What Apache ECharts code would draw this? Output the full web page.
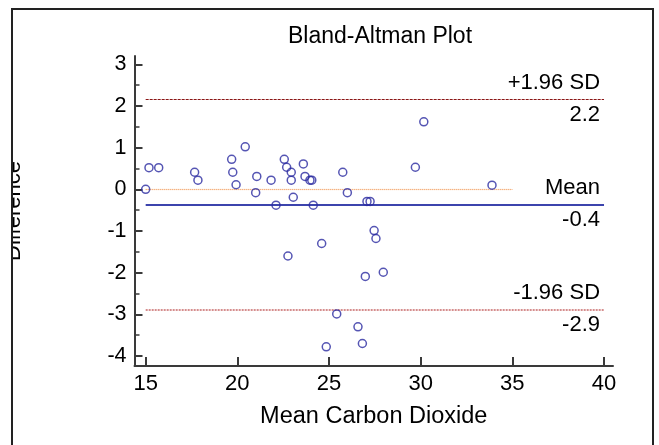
<!DOCTYPE html>
<html>
<head>
<meta charset="utf-8">
<script src="https://cdn.jsdelivr.net/npm/echarts@6/dist/echarts.min.js"></script>
<style>
html,body{margin:0;padding:0;background:#fff;}
#chart{width:659px;height:445px;}
</style>
</head>
<body>
<div id="chart"></div>
<script>
// ---- data ----
var meanCO2 = [15.0, 15.18, 15.71, 17.67, 17.85, 19.69, 19.75, 19.93, 20.43, 21.06,
  21.0, 21.84, 22.11, 22.56, 22.69, 22.94, 22.94, 23.05, 23.6, 23.69,
  23.96, 24.06, 24.14, 25.75, 26.0, 27.07, 27.24, 27.46, 27.56, 24.6,
  22.76, 26.98, 27.96, 25.42, 26.58, 26.82, 24.85, 30.17, 29.71, 33.89];
var difference = [0.0, 0.52, 0.52, 0.41, 0.22, 0.72, 0.41, 0.11, 1.02, 0.31,
  -0.08, 0.22, -0.38, 0.72, 0.53, 0.41, 0.22, -0.19, 0.61, 0.31,
  0.22, 0.22, -0.38, 0.41, -0.08, -0.29, -0.29, -0.99, -1.18, -1.30,
  -1.60, -2.09, -1.99, -2.99, -3.30, -3.70, -3.78, 1.62, 0.53, 0.10];
var meanDiff = -0.36;
var upperLoA = 2.16;
var lowerLoA = -2.88;
var zeroLine = 0;
var lineXRange = [15, 40];
var zeroXRange = [15, 35];
var xTicks = [15, 20, 25, 30, 35, 40];
var yTicks = [-4, -3, -2, -1, 0, 1, 2, 3];
var yMinorTicks = [-3.5, -2.5, -1.5, -0.5, 0.5, 1.5, 2.5];
var refNames = ['+1.96 SD', 'Mean', '-1.96 SD'];

var points = meanCO2.map(function (x, i) { return [x, difference[i]]; });
var FONT = 'Liberation Sans, Arial, sans-serif';
var axisColor = '#3a3a3a';

function refLine(y, xr) { return [{ coord: [xr[0], y] }, { coord: [xr[1], y] }]; }
function labelledLine(y, name, style) {
  var top = refLine(y, lineXRange);
  top[0].lineStyle = style;
  top[0].label = { show: true, position: 'insideEndTop', formatter: name, distance: [4, 5] };
  var bottom = refLine(y, lineXRange);
  bottom[0].lineStyle = Object.assign({}, style, { color: 'rgba(255,255,255,0)', width: 0 });
  bottom[0].label = { show: true, position: 'insideEndBottom', formatter: y.toFixed(1), distance: [4, 5], color: '#000' };
  return [top, bottom];
}

var upperStyle = { color: '#8a1515', type: [3, 1], width: 1 };
var meanStyle = { color: '#3c44ad', type: 'solid', width: 2 };
var lowerStyle = { color: '#c86a6a', type: [2, 1], width: 1.5 };
var zeroStyle = { color: '#f0904a', type: [1, 1], width: 1.2 };

var mlData = [];
mlData = mlData.concat(labelledLine(upperLoA, refNames[0], upperStyle));
mlData = mlData.concat(labelledLine(meanDiff, refNames[1], meanStyle));
mlData = mlData.concat(labelledLine(lowerLoA, refNames[2], lowerStyle));
var z = refLine(zeroLine, zeroXRange);
z[0].lineStyle = zeroStyle;
z[0].label = { show: false };
mlData.push(z);

var chart = echarts.init(document.getElementById('chart'), null, { renderer: 'canvas' });
chart.setOption({
  backgroundColor: '#fff',
  animation: false,
  textStyle: { fontFamily: FONT },
  title: {
    text: 'Bland-Altman Plot',
    left: 375, top: 20, textAlign: 'center',
    textStyle: { fontFamily: FONT, fontSize: 23, fontWeight: 'normal', color: '#000' }
  },
  grid: { left: 134.5, right: 46, top: 56, bottom: 79, containLabel: false, outerBoundsMode: 'none' },
  xAxis: {
    type: 'value', min: 14.39, max: 40.49,
    name: 'Mean Carbon Dioxide', nameLocation: 'middle', nameGap: 39,
    nameTextStyle: { fontFamily: FONT, fontSize: 23.5, color: '#000' },
    axisLine: { show: true, onZero: false, lineStyle: { color: axisColor, width: 2 } },
    axisTick: { show: true, inside: true, length: 9, customValues: xTicks, lineStyle: { color: axisColor, width: 2 } },
    axisLabel: { customValues: xTicks, fontFamily: FONT, fontSize: 22, color: '#000', margin: 7 },
    splitLine: { show: false }
  },
  yAxis: [{
    type: 'value', min: -4.24, max: 3.2,
    name: 'Difference', nameLocation: 'middle', nameGap: 110, nameRotate: 90,
    nameTextStyle: { fontFamily: FONT, fontSize: 22, color: '#000' },
    axisLine: { show: true, onZero: false, lineStyle: { color: axisColor, width: 2 } },
    axisTick: { show: true, inside: true, length: 8, customValues: yTicks, lineStyle: { color: axisColor, width: 2 } },
    axisLabel: { customValues: yTicks, fontFamily: FONT, fontSize: 21.5, color: '#000', margin: 8 },
    splitLine: { show: false }
  }, {
    type: 'value', min: -4.24, max: 3.2, position: 'left',
    axisLine: { show: false },
    axisTick: { show: true, inside: true, length: 5, customValues: yMinorTicks, lineStyle: { color: axisColor, width: 1.5 } },
    axisLabel: { show: false },
    splitLine: { show: false }
  }],
  series: [{
    type: 'scatter',
    data: points,
    symbol: 'circle', symbolSize: 8,
    itemStyle: { color: 'rgba(255,255,255,0)', borderColor: '#2a2aa0', borderWidth: 1.5 },
    z: 5,
    markLine: {
      silent: true, symbol: ['none', 'none'],
      label: { fontFamily: FONT, fontSize: 22, color: '#000' },
      data: mlData
    }
  }],
  graphic: [
    { type: 'rect', z: 100, shape: { x: 0, y: 0, width: 11, height: 445 }, style: { fill: '#fff' } },
    { type: 'rect', z: 101, shape: { x: 12, y: 9, width: 641, height: 445 }, style: { fill: null, stroke: '#222', lineWidth: 2 } }
  ]
});
</script>
</body>
</html>
